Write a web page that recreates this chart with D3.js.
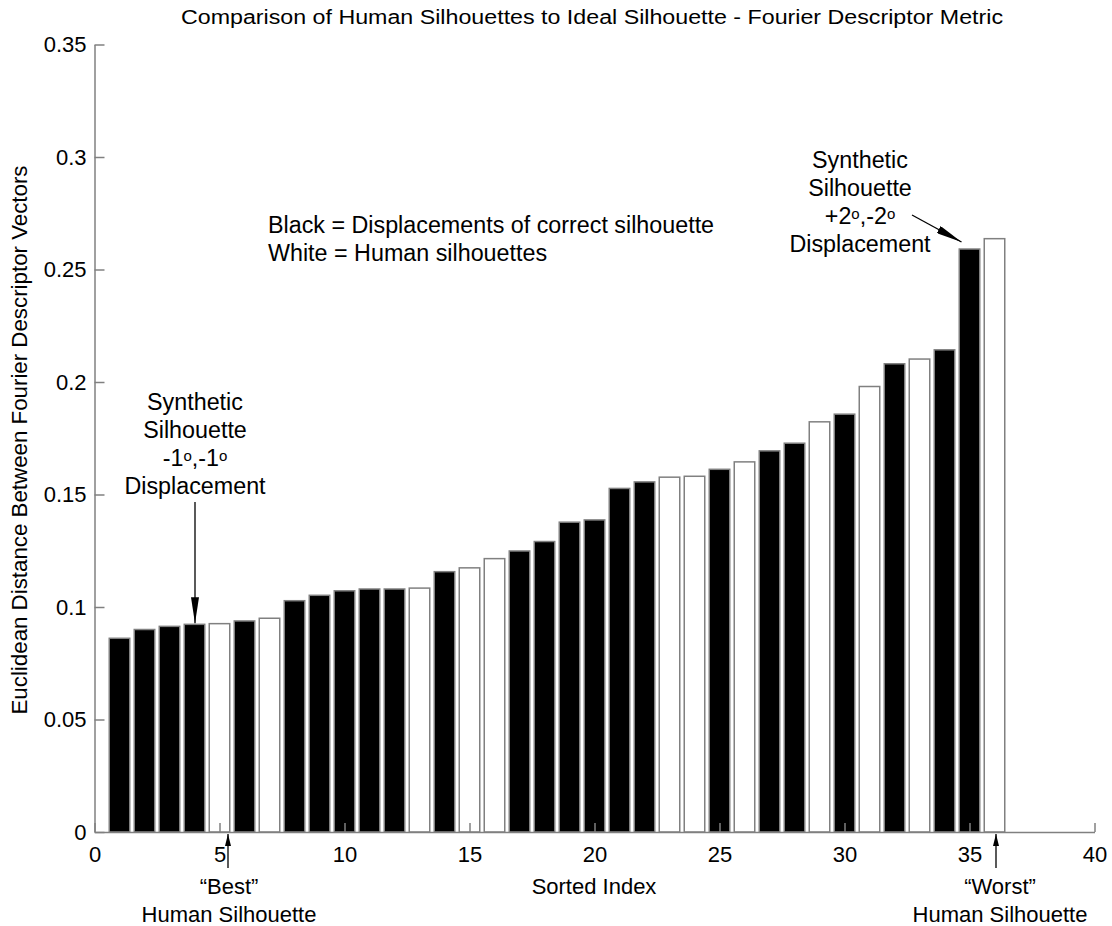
<!DOCTYPE html>
<html>
<head>
<meta charset="utf-8">
<script src="https://cdn.jsdelivr.net/npm/d3@7"></script>
<style>
  html, body { margin: 0; padding: 0; background: #fff; }
  svg { display: block; font-family: "Liberation Sans", Arial, sans-serif; }
</style>
</head>
<body>
<svg id="chart" width="1112" height="926"></svg>
<script>
// Sorted index of each silhouette
const indices = d3.range(1, 37);
// Euclidean distance between Fourier descriptor vectors
const distances = [
  0.0861, 0.0900, 0.0914, 0.0923, 0.0926, 0.0938, 0.0950, 0.1028, 0.1052, 0.1072,
  0.1080, 0.1080, 0.1084, 0.1157, 0.1174, 0.1215, 0.1249, 0.1291, 0.1377, 0.1387,
  0.1527, 0.1556, 0.1577, 0.1581, 0.1612, 0.1645, 0.1694, 0.1728, 0.1823, 0.1857,
  0.1980, 0.2081, 0.2102, 0.2143, 0.2591, 0.2637
];
// "D" = displacement of correct silhouette (black), "H" = human silhouette (white)
const kinds = [
  "D","D","D","D","H","D","H","D","D","D",
  "D","D","H","D","H","H","D","D","D","D",
  "D","D","H","H","D","H","D","D","H","D",
  "H","D","H","D","D","H"
];
const xTicks = [0, 5, 10, 15, 20, 25, 30, 35, 40];
const yTicks = [0, 0.05, 0.1, 0.15, 0.2, 0.25, 0.3, 0.35];

const bars = indices.map((idx, i) => ({ idx, value: distances[i], kind: kinds[i] }));

const svg = d3.select("#chart");
const x = d3.scaleLinear().domain([0, 40]).range([94.5, 1094.5]);
const y = d3.scaleLinear().domain([0, 0.35]).range([832, 44.5]);
const barWidth = 0.82;
const axisColor = "#808080";
const fontSize = 22;
const noteSize = 23.3;

// Bars
svg.append("g").selectAll("rect").data(bars).join("rect")
  .attr("x", d => x(d.idx - barWidth / 2))
  .attr("width", x(barWidth) - x(0))
  .attr("y", d => y(d.value))
  .attr("height", d => y(0) - y(d.value))
  .attr("fill", d => d.kind === "D" ? "#000" : "#fff")
  .attr("stroke", axisColor)
  .attr("stroke-width", 1.5);

// Axes: left and bottom only, ticks pointing inward
const xAxis = d3.axisBottom(x).tickValues(xTicks).tickSizeInner(-9).tickSizeOuter(0)
  .tickPadding(14).tickFormat(d3.format("d"));
const yAxis = d3.axisLeft(y).tickValues(yTicks).tickSizeInner(-10).tickSizeOuter(0)
  .tickPadding(8).tickFormat(d => d === 0 ? "0" : String(+d.toFixed(2)));

const gx = svg.append("g").attr("transform", `translate(0,${y(0)})`).call(xAxis);
const gy = svg.append("g").attr("transform", `translate(${x(0)},0)`).call(yAxis);
[gx, gy].forEach(g => {
  g.select(".domain").attr("stroke", axisColor).attr("stroke-width", 1.5);
  g.selectAll(".tick line").attr("stroke", axisColor).attr("stroke-width", 1.5);
  g.selectAll(".tick text").attr("fill", "#000").attr("font-size", fontSize)
    .attr("font-family", "Liberation Sans, Arial, sans-serif");
});
gx.selectAll(".tick text").attr("dy", "0.71em");

// Title and axis labels
svg.append("text").attr("x", 592).attr("y", 24).attr("text-anchor", "middle")
  .attr("font-size", 20).attr("textLength", 822).attr("lengthAdjust", "spacingAndGlyphs")
  .text("Comparison of Human Silhouettes to Ideal Silhouette - Fourier Descriptor Metric");
svg.append("text").attr("x", 594).attr("y", 894).attr("text-anchor", "middle")
  .attr("font-size", fontSize).text("Sorted Index");
svg.append("text").attr("transform", "translate(27,440) rotate(-90)").attr("text-anchor", "middle")
  .attr("font-size", 22.3).text("Euclidean Distance Between Fourier Descriptor Vectors");

// Colour key
svg.append("text").attr("x", 268).attr("y", 233).attr("font-size", noteSize)
  .text("Black = Displacements of correct silhouette");
svg.append("text").attr("x", 268).attr("y", 261).attr("font-size", noteSize)
  .text("White = Human silhouettes");

// Arrow heads
const defs = svg.append("defs");
defs.append("marker").attr("id", "head").attr("viewBox", "0 0 26 8")
  .attr("refX", 26).attr("refY", 4).attr("markerWidth", 26).attr("markerHeight", 8)
  .attr("markerUnits", "userSpaceOnUse").attr("orient", "auto")
  .append("path").attr("d", "M0,0 L26,4 L0,8 Z").attr("fill", "#000");
defs.append("marker").attr("id", "headSmall").attr("viewBox", "0 0 12 6")
  .attr("refX", 12).attr("refY", 3).attr("markerWidth", 12).attr("markerHeight", 6)
  .attr("markerUnits", "userSpaceOnUse").attr("orient", "auto")
  .append("path").attr("d", "M0,0 L12,3 L0,6 Z").attr("fill", "#000");

function arrow(x1, y1, x2, y2, head) {
  svg.append("line").attr("x1", x1).attr("y1", y1).attr("x2", x2).attr("y2", y2)
    .attr("stroke", "#000").attr("stroke-width", 1.3).attr("marker-end", `url(#${head})`);
}

// Multi-line centred annotation; a line given as [base, sup, base, sup] renders superscripts
function note(cx, y0, lines, size) {
  const t = svg.append("text").attr("text-anchor", "middle").attr("font-size", size);
  lines.forEach((ln, i) => {
    if (typeof ln === "string") {
      t.append("tspan").attr("x", cx).attr("y", y0 + i * 28).text(ln);
    } else {
      const first = t.append("tspan").attr("x", cx).attr("y", y0 + i * 28);
      ln.forEach((part, j) => {
        const s = j === 0 ? first : t.append("tspan");
        s.text(part);
        if (j % 2 === 1) s.attr("font-size", 15).attr("baseline-shift", "35%");
      });
    }
  });
}

note(195, 410, ["Synthetic", "Silhouette", ["-1", "o", ",-1", "o"], "Displacement"], noteSize);
arrow(195, 502, 195, y(distances[3]) - 1, "head");

note(860, 168, ["Synthetic", "Silhouette", ["+2", "o", ",-2", "o"], "Displacement"], noteSize);
arrow(912, 215, x(35) - 8, y(distances[34]) - 7, "head");

arrow(228, 868, 228, 834, "headSmall");
note(229, 894, ["\u201CBest\u201D", "Human Silhouette"], fontSize);
arrow(996, 868, 996, 834, "headSmall");
note(1000, 894, ["\u201CWorst\u201D", "Human Silhouette"], fontSize);
</script>
</body>
</html>
